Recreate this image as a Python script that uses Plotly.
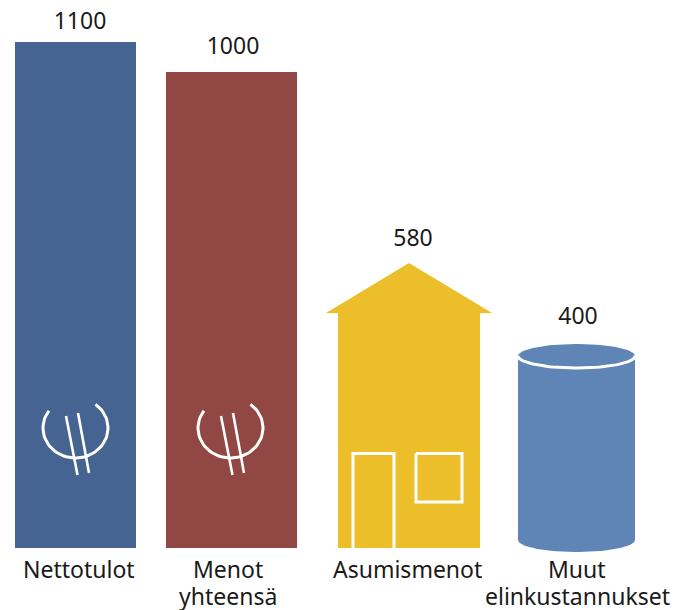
import numpy as np
import plotly.graph_objects as go

# data
categories = ["Nettotulot", "Menot<br>yhteensä", "Asumismenot", "Muut<br>elinkustannukset"]
values = [1100, 1000, 580, 400]

# the picture is a pictogram, each shape has its own px per value unit
px_per_unit = [0.46, 0.476, 0.4914, 0.51]
label_x = [80, 233, 413, 578]
label_gap = [19, 24, 23, 26]
cat_x = [79, 228, 407, 577]
BASE = 548
W, H = 686, 610

BLUE = "#456491"
RED = "#914744"
YELLOW = "#ECBE2A"
CYL = "#5F84B6"
FONT = "Noto Sans"

heights = [v * s for v, s in zip(values, px_per_unit)]


def py(p):
    # pixel row in the page -> y axis value (height over the baseline)
    return BASE - p


fig = go.Figure()

# two plain bars
fig.add_trace(go.Bar(x=[75.5, 231.5], y=heights[:2], width=[121, 131],
                     marker=dict(color=[BLUE, RED], line_width=0)))


def poly(xs, ys, color):
    fig.add_trace(go.Scatter(x=xs, y=ys, mode="lines", fill="toself", fillcolor=color,
                             line=dict(width=0), hoverinfo="skip"))


def line(xs, ys, width=3):
    fig.add_trace(go.Scatter(x=xs, y=ys, mode="lines", hoverinfo="skip",
                             line=dict(color="white", width=width)))


# euro signs
for dx in [0, 155]:
    cx, cy, rx, ry = 75.5 + dx, 428, 32.5, 30
    t = np.linspace(np.radians(-52), np.radians(215), 60)
    line(cx + rx * np.cos(t), py(cy + ry * np.sin(t)))
    line([66 + dx, 77.5 + dx], [py(416), py(475)], 2.6)
    line([78 + dx, 89 + dx], [py(413), py(473)], 2.6)

# house
house_h = heights[2]
eave = house_h * 235 / 285
fig.add_trace(go.Bar(x=[409], y=[eave], width=[142], marker=dict(color=YELLOW, line_width=0)))
poly([326, 409, 492, 326], [eave, house_h, eave, eave], YELLOW)
line([353, 353, 394, 394], [0, py(453.5), py(453.5), 0], 3)
line([416, 462, 462, 416, 416], [py(453.5), py(453.5), py(502), py(502), py(453.5)], 3)

# cylinder
cyl_h = heights[3]
top = cyl_h - 12
t = np.linspace(0, np.pi, 50)
xs = 576.5 + 58.5 * np.cos(t)
poly(np.r_[xs, xs[::-1]], np.r_[top + 12 * np.sin(t), py(540) - 12 * np.sin(t[::-1])], CYL)
line(xs, top - 12 * np.sin(t), 3)

# value labels over the shapes
fig.add_trace(go.Scatter(x=label_x, y=[h + g for h, g in zip(heights, label_gap)], mode="text",
                         text=[str(v) for v in values], textposition="middle center",
                         textfont=dict(family=FONT, size=23, color="#1a1a1a"), hoverinfo="skip"))

# one annotation per line, the line gap in the picture is tighter than plotly's
for x, c in zip(cat_x, categories):
    for i, part in enumerate(c.split("<br>")):
        fig.add_annotation(x=x, y=py(569 + 27 * i), text=part, showarrow=False, yanchor="middle",
                           font=dict(family=FONT, size=23, color="#1a1a1a"))

fig.update_layout(width=W, height=H, margin=dict(l=0, r=0, t=0, b=0), showlegend=False,
                  plot_bgcolor="white", paper_bgcolor="white", barmode="overlay",
                  xaxis=dict(range=[0, W], visible=False),
                  yaxis=dict(range=[BASE - H, BASE], visible=False))
# page has a default 8px body margin, drop it
fig.write_html("out.html", config=dict(displayModeBar=False),
               post_script="document.body.style.margin='0';")
